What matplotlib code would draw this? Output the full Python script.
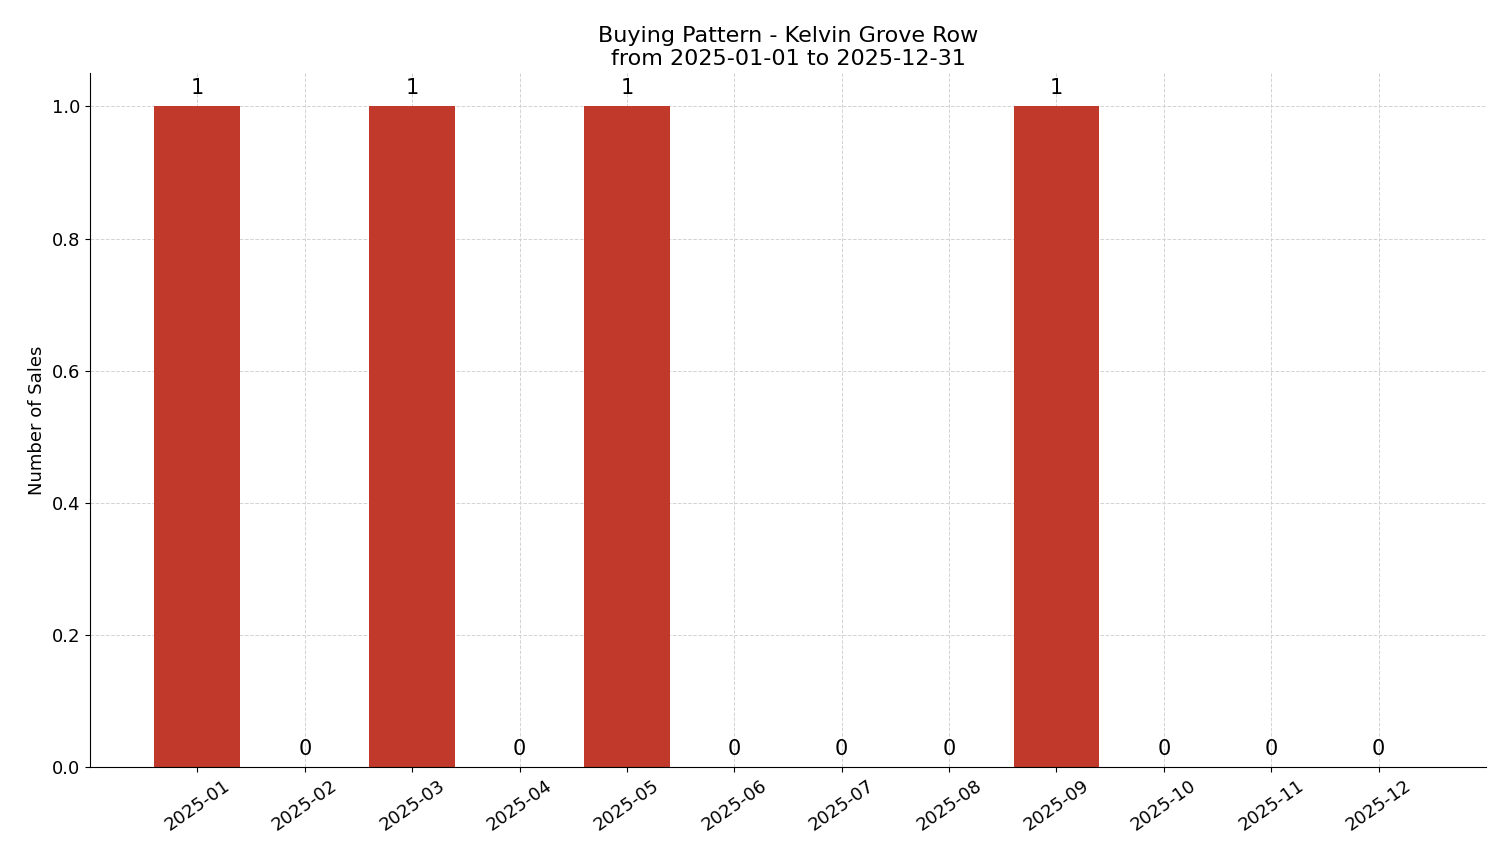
import matplotlib
matplotlib.use("Agg")
import matplotlib.pyplot as plt

months = ["2025-01", "2025-02", "2025-03", "2025-04", "2025-05", "2025-06",
          "2025-07", "2025-08", "2025-09", "2025-10", "2025-11", "2025-12"]
sales = [1, 0, 1, 0, 1, 0, 0, 0, 1, 0, 0, 0]

fig, ax = plt.subplots(figsize=(15.01, 8.63), dpi=100)
x = range(len(months))
bars = ax.bar(x, sales, width=0.8, color="#c0392b", zorder=2)
for b, v in zip(bars, sales):
    ax.text(b.get_x() + b.get_width() / 2, v + 0.012, str(v),
            ha="center", va="bottom", fontsize=15)

ax.set_xticks(list(x))
ax.set_xticklabels(months, rotation=35, fontsize=13)
ax.tick_params(axis="y", labelsize=13)
ax.set_xlim(-1, 12)
ax.set_ylim(0, 1.05)
ax.set_ylabel("Number of Sales", fontsize=13)
ax.set_title("Buying Pattern - Kelvin Grove Row\nfrom 2025-01-01 to 2025-12-31", fontsize=16)
ax.grid(True, linestyle="--", color="#d3d3d3", linewidth=0.7, zorder=0)
ax.spines["top"].set_visible(False)
ax.spines["right"].set_visible(False)

fig.subplots_adjust(left=0.06, right=0.99, top=0.915, bottom=0.111)
fig.savefig("out.png", dpi=100)
